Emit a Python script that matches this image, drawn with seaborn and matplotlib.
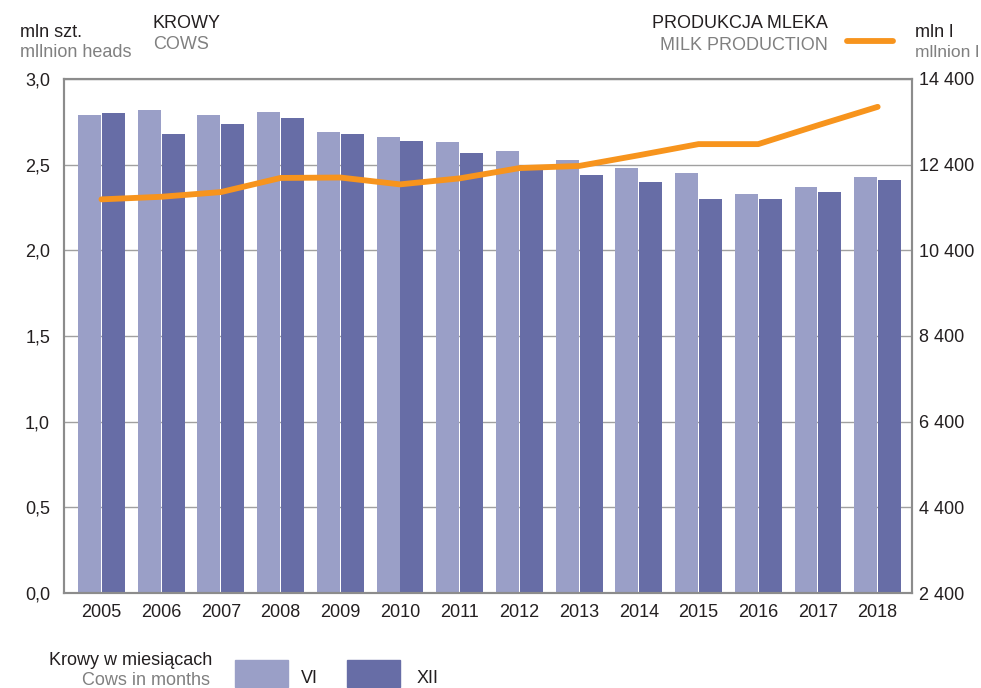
import matplotlib
matplotlib.use("Agg")
import matplotlib.pyplot as plt
from matplotlib.patches import Rectangle
from matplotlib.lines import Line2D
from matplotlib.ticker import FuncFormatter, FixedLocator
import seaborn as sns
import pandas as pd

years = [str(y) for y in range(2005, 2019)]
cows_vi = [2.79, 2.82, 2.79, 2.81, 2.69, 2.66, 2.63, 2.58, 2.53, 2.48, 2.45, 2.33, 2.37, 2.43]
cows_xii = [2.80, 2.68, 2.74, 2.77, 2.68, 2.64, 2.57, 2.50, 2.44, 2.40, 2.30, 2.30, 2.34, 2.41]
milk = [11590, 11650, 11760, 12090, 12100, 11940, 12080, 12320, 12370, 12620, 12880, 12880, 13320, 13750]
months = ["VI", "XII"]
left_ticks = [0.0, 0.5, 1.0, 1.5, 2.0, 2.5, 3.0]
right_ticks = [2400, 4400, 6400, 8400, 10400, 12400, 14400]

C_VI = "#9A9FC7"
C_XII = "#676DA6"
C_MILK = "#F7941D"
GREY_TXT = "#808080"
DARK = "#231F20"
FRAME = "#8C8C8C"

sns.set_theme(style="white")
plt.rcParams["font.family"] = ["Liberation Sans", "DejaVu Sans"]
FS = 13

df = pd.DataFrame({
    "year": years * 2,
    "value": cows_vi + cows_xii,
    "month": [months[0]] * len(years) + [months[1]] * len(years),
})

W, H = 981, 688
fig = plt.figure(figsize=(W / 100, H / 100), dpi=100)
ax = fig.add_axes([64 / W, 1 - 593 / H, (912 - 64) / W, (593 - 79) / H])

sns.barplot(data=df, x="year", y="value", hue="month", order=years, hue_order=months,
            palette=[C_VI, C_XII], width=0.8, gap=0.04, ax=ax, legend=False,
            saturation=1, linewidth=0)

ax.set_ylim(0, 3.0)
ax.yaxis.set_major_locator(FixedLocator(left_ticks))
ax.yaxis.set_major_formatter(FuncFormatter(lambda v, p: f"{v:.1f}".replace(".", ",")))
ax.set_axisbelow(True)
ax.grid(axis="y", color="#A0A0A0", linewidth=1.0)
ax.grid(axis="x", visible=False)
ax.set_xlabel("")
ax.set_ylabel("")
ax.tick_params(axis="y", length=0, pad=10, labelsize=FS, labelcolor=DARK)
ax.tick_params(axis="x", length=0, pad=8, labelsize=FS, labelcolor=DARK)
for s in ax.spines.values():
    s.set_color(FRAME)
    s.set_linewidth(1.5)

ax2 = ax.twinx()
sns.pointplot(x=years, y=milk, order=years, color=C_MILK, markers="", linewidth=4.2,
              ax=ax2, errorbar=None)
for ln in ax2.lines:
    ln.set_solid_capstyle("round")
    ln.set_solid_joinstyle("round")
ax2.set_ylim(2400, 14400)
ax2.yaxis.set_major_locator(FixedLocator(right_ticks))
ax2.yaxis.set_major_formatter(FuncFormatter(lambda v, p: f"{int(v):,}".replace(",", " ")))
ax2.tick_params(axis="y", length=0, pad=5, labelsize=FS, labelcolor=DARK)
ax2.set_ylabel("")
ax2.set_xlabel("")
ax2.grid(False)
for s in ax2.spines.values():
    s.set_color(FRAME)
    s.set_linewidth(1.5)

ax.set_xlim(-0.627, 13.575)
ax2.set_xlim(-0.627, 13.575)


def P(x, y):
    return x / W, 1 - y / H


fig.text(*P(20, 37), "mln szt.", fontsize=FS, color=DARK, va="baseline", ha="left")
fig.text(*P(20, 57), "mllnion heads", fontsize=FS, color=GREY_TXT, va="baseline", ha="left")
fig.text(*P(153, 28), "KROWY", fontsize=FS, color=DARK, va="baseline", ha="left")
fig.text(*P(153, 49), "COWS", fontsize=FS, color=GREY_TXT, va="baseline", ha="left")
fig.text(*P(828, 28), "PRODUKCJA MLEKA", fontsize=FS, color=DARK, va="baseline", ha="right")
fig.text(*P(828, 50), "MILK PRODUCTION", fontsize=FS, color=GREY_TXT, va="baseline", ha="right")
fig.text(*P(915, 37), "mln l", fontsize=FS, color=DARK, va="baseline", ha="left")
fig.text(*P(915, 57), "mllnion l", fontsize=12.5, color=GREY_TXT, va="baseline", ha="left")
fig.add_artist(Line2D([847 / W, 893 / W], [1 - 41 / H, 1 - 41 / H], color=C_MILK,
                      linewidth=4.2, solid_capstyle="round", transform=fig.transFigure))

fig.text(*P(212, 665), "Krowy w miesiącach", fontsize=FS, color=DARK, va="baseline", ha="right")
fig.text(*P(210, 685), "Cows in months", fontsize=FS, color=GREY_TXT, va="baseline", ha="right")
fig.add_artist(Rectangle(P(235, 687), 53 / W, 27 / H, color=C_VI, transform=fig.transFigure))
fig.add_artist(Rectangle(P(347, 687), 53 / W, 27 / H, color=C_XII, transform=fig.transFigure))
fig.text(*P(301, 683), months[0], fontsize=FS, color=DARK, va="baseline", ha="left")
fig.text(*P(417, 683), months[1], fontsize=FS, color=DARK, va="baseline", ha="left")

fig.savefig("out.png", dpi=100)
